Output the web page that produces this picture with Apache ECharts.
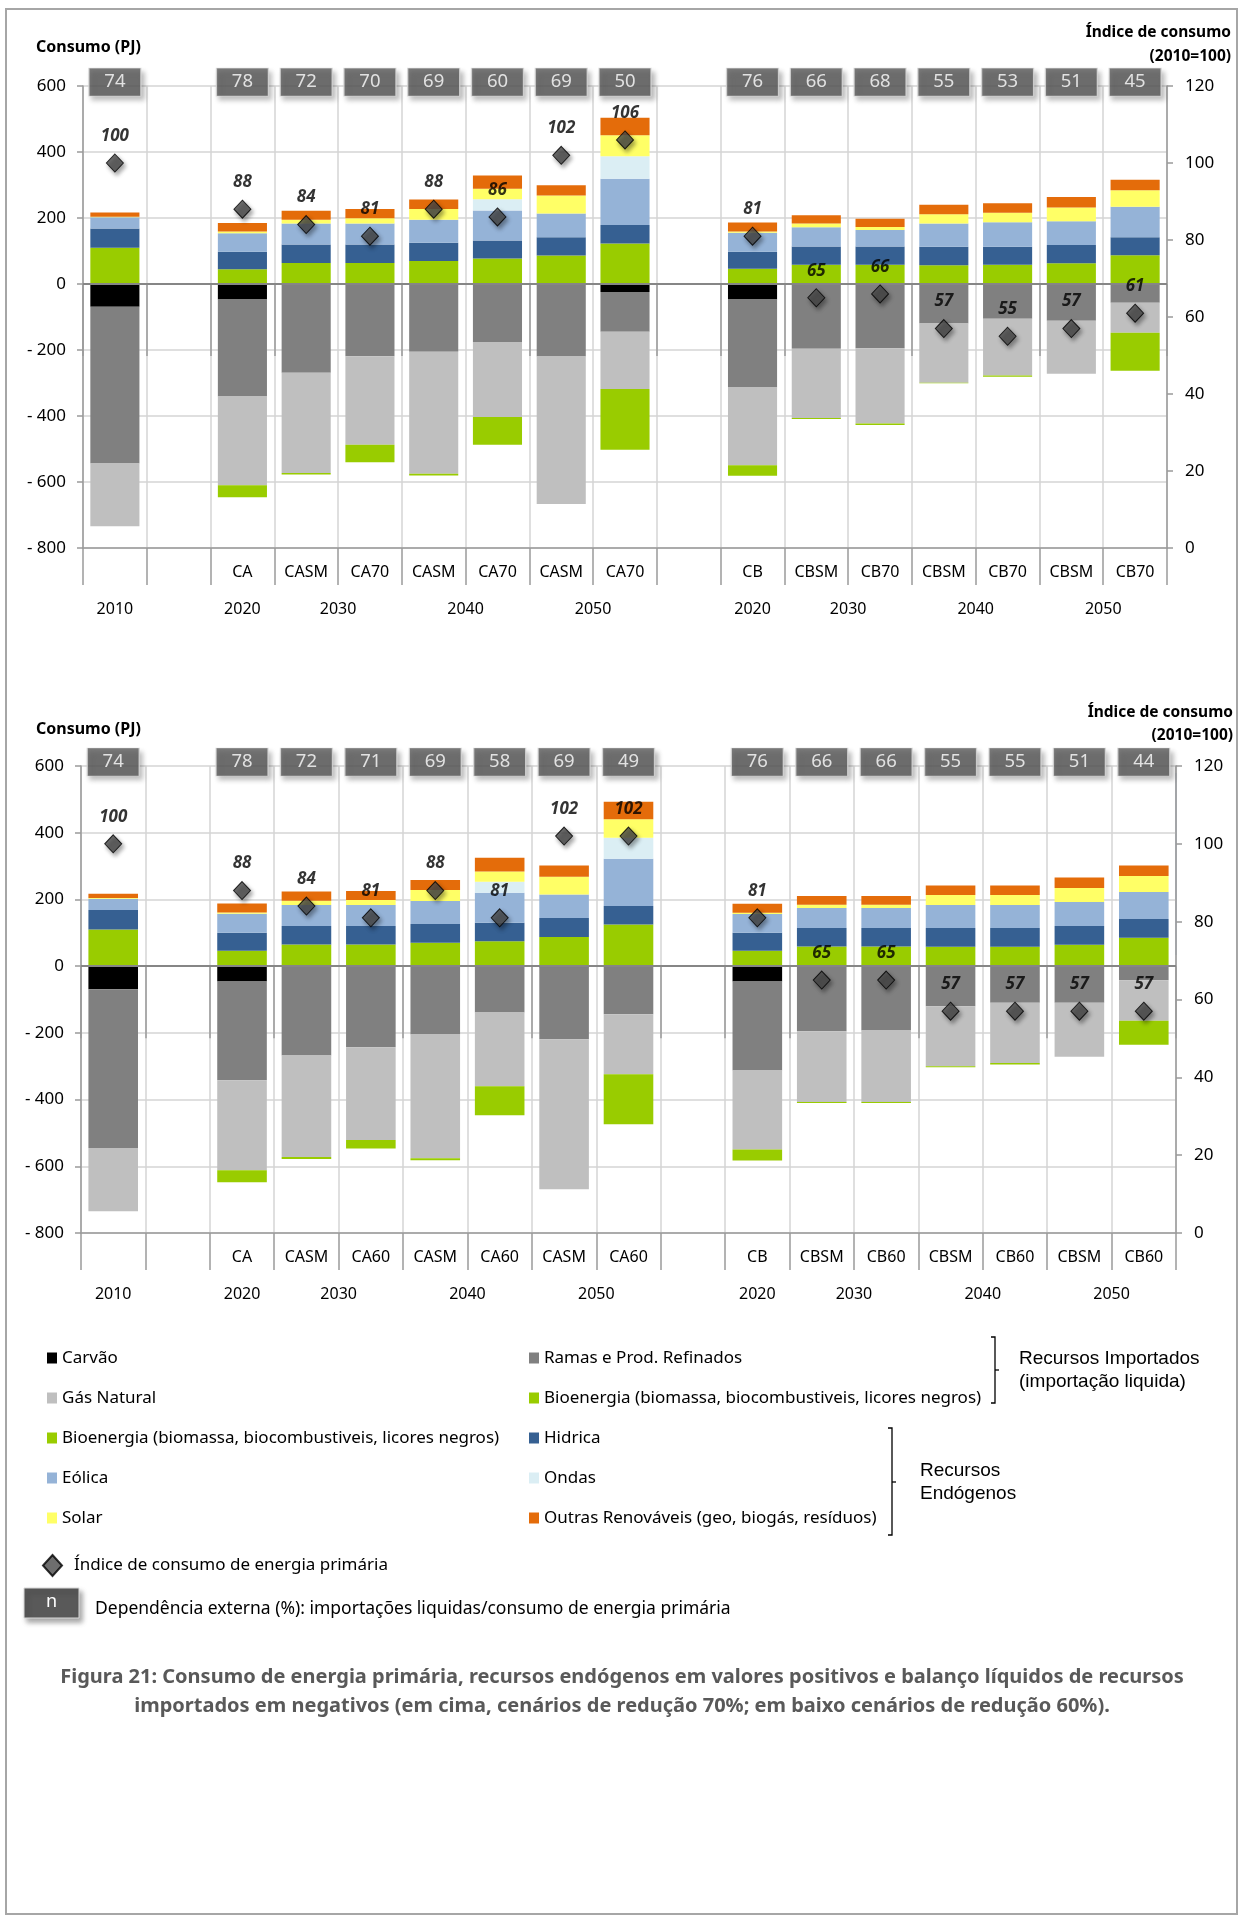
<!DOCTYPE html>
<html>
<head>
<meta charset="utf-8">
<title>Figura 21</title>
<script src="https://cdn.jsdelivr.net/npm/echarts@6/dist/echarts.min.js"></script>
<style>
  html, body { margin: 0; padding: 0; background: #fff; }
  #main { width: 1240px; height: 1917px; }
</style>
</head>
<body>
<div id="main"></div>
<script>
// categorias (linha de baixo = anos, linha de cima = cenários)
var cats70 = ['', '', 'CA', 'CASM', 'CA70', 'CASM', 'CA70', 'CASM', 'CA70', '', 'CB', 'CBSM', 'CB70', 'CBSM', 'CB70', 'CBSM', 'CB70'];
var cats60 = ['', '', 'CA', 'CASM', 'CA60', 'CASM', 'CA60', 'CASM', 'CA60', '', 'CB', 'CBSM', 'CB60', 'CBSM', 'CB60', 'CBSM', 'CB60'];
var years = ['2010', '', '2020', '2030', '2040', '2050', '', '2020', '2030', '2040', '2050'];
var yearSpan = [1, 1, 1, 2, 2, 2, 1, 1, 2, 2, 2];

// cenários de redução 70% (PJ)
var carvao70   = [-69, 0, -47, 0, 0, 0, 0, -2, -24, 0, -47, 0, 0, 0, 0, 0, 0];
var ramas70    = [-475, 0, -294, -269, -219, -205, -176, -218, -121, 0, -267, -196, -195, -120, -105, -111, -57];
var gas70      = [-190, 0, -269, -304, -268, -370, -227, -447, -173, 0, -235, -210, -228, -179, -172, -161, -91];
var bioImp70   = [0, 0, -36, -4, -53, -5, -84, 0, -184, 0, -32, -3, -4, -2, -4, 0, -115];
var bio70      = [110, 0, 45, 64, 64, 70, 77, 86, 123, 0, 46, 58, 58, 57, 58, 63, 87];
var hidrica70  = [58, 0, 53, 56, 56, 55, 55, 56, 56, 0, 52, 56, 56, 56, 55, 55, 55];
var eolica70   = [34, 0, 56, 63, 63, 70, 91, 72, 140, 0, 57, 58, 50, 70, 74, 72, 92];
var ondas70    = [0, 0, 0, 0, 0, 0, 34, 0, 68, 0, 0, 0, 0, 0, 0, 0, 0];
var solar70    = [2, 0, 5, 12, 16, 32, 32, 54, 64, 0, 4, 11, 9, 28, 29, 42, 50];
var outras70   = [13, 0, 26, 27, 28, 29, 40, 31, 53, 0, 27, 25, 25, 29, 29, 32, 32];
var indice70   = [100, null, 88, 84, 81, 88, 86, 102, 106, null, 81, 65, 66, 57, 55, 57, 61];
var dep70      = [74, null, 78, 72, 70, 69, 60, 69, 50, null, 76, 66, 68, 55, 53, 51, 45];

// cenários de redução 60% (PJ)
var carvao60   = [-69, 0, -46, 0, 0, 0, 0, -4, 0, 0, -46, 0, 0, 0, 0, 0, 0];
var ramas60    = [-476, 0, -296, -268, -243, -205, -139, -215, -144, 0, -267, -195, -193, -120, -110, -110, -42];
var gas60      = [-190, 0, -270, -304, -278, -371, -221, -450, -180, 0, -237, -212, -214, -180, -180, -162, -122];
var bioImp60   = [0, 0, -36, -6, -26, -6, -87, 0, -150, 0, -33, -3, -3, -3, -5, 0, -72];
var bio60      = [110, 0, 46, 65, 65, 70, 75, 87, 125, 0, 46, 59, 59, 58, 58, 64, 85];
var hidrica60  = [58, 0, 54, 55, 55, 56, 55, 57, 55, 0, 54, 55, 55, 56, 56, 56, 56];
var eolica60   = [34, 0, 57, 63, 63, 69, 90, 71, 142, 0, 56, 60, 60, 69, 69, 72, 81];
var ondas60    = [0, 0, 0, 0, 0, 0, 33, 0, 63, 0, 0, 0, 0, 0, 0, 0, 0];
var solar60    = [2, 0, 4, 13, 15, 33, 31, 53, 55, 0, 4, 10, 10, 30, 30, 42, 48];
var outras60   = [13, 0, 27, 28, 27, 30, 41, 34, 53, 0, 27, 26, 26, 29, 29, 32, 32];
var indice60   = [100, null, 88, 84, 81, 88, 81, 102, 102, null, 81, 65, 65, 57, 57, 57, 57];
var dep60      = [74, null, 78, 72, 71, 69, 58, 69, 49, null, 76, 66, 66, 55, 55, 51, 44];

var FONT = '"Noto Sans", sans-serif';
var BIO_TXT = 'Bioenergia (biomassa, biocombustiveis, licores negros)';
var BOX_Y = 612;

var parts = [
  {name: 'Carvão', color: '#000000'},
  {name: 'Ramas e Prod. Refinados', color: '#808080'},
  {name: 'Gás Natural', color: '#bfbfbf'},
  {name: 'Bioenergia importada', color: '#99cc00'},
  {name: 'Bioenergia', color: '#99cc00'},
  {name: 'Hidrica', color: '#366092'},
  {name: 'Eólica', color: '#95b3d7'},
  {name: 'Ondas', color: '#dbeef4'},
  {name: 'Solar', color: '#ffff66'},
  {name: 'Outras Renováveis (geo, biogás, resíduos)', color: '#e46c0a'}
];

// eixo dos anos: 35 pontos (meias categorias) para centrar os rótulos nos grupos
var yearPoints = [];
var yearTicks = [];
for (var k = 0; k < 35; k++) yearPoints.push('');
var pos = 0;
years.forEach(function (y, i) {
  yearTicks.push(2 * pos);
  yearPoints[2 * pos + yearSpan[i]] = y;
  pos += yearSpan[i];
});
yearTicks.push(2 * pos);

var gridLine = '#d4d4d4';
var axisGrey = '#9a9a9a';

function subAxis(g, cats) {
  return {
    type: 'category', gridIndex: g, data: cats, position: 'bottom',
    axisLine: {onZero: false, lineStyle: {color: axisGrey, width: 1.5}},
    axisTick: {show: true, interval: 0, length: 37, lineStyle: {color: axisGrey, width: 1.5}},
    axisLabel: {interval: 0, margin: 16, fontSize: 16, color: '#000', fontFamily: FONT},
    splitLine: {show: true, interval: 0, lineStyle: {color: gridLine, width: 1.5}}
  };
}
function yearAxis(g) {
  return {
    type: 'category', gridIndex: g, data: yearPoints, boundaryGap: false, position: 'bottom',
    axisLine: {show: false},
    axisTick: {show: true, length: 72, interval: function (i) { return yearTicks.indexOf(i) >= 0; },
      lineStyle: {color: axisGrey, width: 1.5}},
    axisLabel: {interval: 0, margin: 53, fontSize: 16, color: '#000', fontFamily: FONT},
    splitLine: {show: false}
  };
}
function leftAxis(g) {
  return {
    type: 'value', gridIndex: g, min: -800, max: 600, interval: 200, position: 'left',
    axisLine: {show: true, lineStyle: {color: axisGrey, width: 1.5}},
    axisTick: {show: true, length: 6, lineStyle: {color: axisGrey, width: 1.5}},
    axisLabel: {margin: 17, fontSize: 17, color: '#000', fontFamily: FONT,
      formatter: function (v) { return v < 0 ? '- ' + (-v) : v; }},
    splitLine: {show: true, lineStyle: {color: gridLine, width: 1.5}}
  };
}
function rightAxis(g) {
  return {
    type: 'value', gridIndex: g, min: 0, max: 120, interval: 20, position: 'right',
    axisLine: {show: true, lineStyle: {color: axisGrey, width: 1.5}},
    axisTick: {show: true, length: 6, lineStyle: {color: axisGrey, width: 1.5}},
    axisLabel: {margin: 18, fontSize: 17, color: '#000', fontFamily: FONT},
    splitLine: {show: false}
  };
}

function chartSeries(g, values, indice, dep) {
  var list = parts.map(function (p, i) {
    return {
      name: p.name, type: 'bar', stack: 'energia' + g,
      xAxisIndex: g * 2, yAxisIndex: g * 2, barWidth: '77%',
      itemStyle: {color: p.color}, data: values[i]
    };
  });
  var boxes = [];
  dep.forEach(function (d, i) { if (d != null) boxes.push([i, BOX_Y, d]); });
  list.push({
    name: 'Dependência externa', type: 'scatter', xAxisIndex: g * 2, yAxisIndex: g * 2,
    symbol: 'rect', symbolSize: [52, 28], clip: false, z: 4,
    itemStyle: {color: '#595959', borderColor: '#d9d9d9', borderWidth: 1,
      shadowBlur: 5, shadowOffsetX: 3, shadowOffsetY: 4, shadowColor: 'rgba(0,0,0,0.35)'},
    label: {show: true, position: 'inside', color: '#fff', fontSize: 18.5, fontFamily: FONT,
      formatter: function (p) { return p.value[2]; }},
    markLine: {silent: true, symbol: 'none', label: {show: false},
      lineStyle: {color: '#868686', width: 2, type: 'solid'}, data: [{yAxis: 0}]},
    data: boxes
  });
  list.push({
    name: 'Índice de consumo de energia primária', type: 'scatter',
    xAxisIndex: g * 2, yAxisIndex: g * 2 + 1,
    symbol: 'diamond', symbolSize: [17, 18], z: 5,
    itemStyle: {color: '#4a4a4a', borderColor: '#000', borderWidth: 1,
      shadowBlur: 4, shadowOffsetX: 2, shadowOffsetY: 3, shadowColor: 'rgba(0,0,0,0.45)'},
    label: {show: true, position: 'top', distance: 9, color: '#000', fontSize: 17,
      fontWeight: 'bold', fontStyle: 'italic', fontFamily: FONT},
    data: indice.map(function (v) { return v == null ? '-' : v; })
  });
  return list;
}

var series = chartSeries(0,
  [carvao70, ramas70, gas70, bioImp70, bio70, hidrica70, eolica70, ondas70, solar70, outras70],
  indice70, dep70).concat(chartSeries(1,
  [carvao60, ramas60, gas60, bioImp60, bio60, hidrica60, eolica60, ondas60, solar60, outras60],
  indice60, dep60));

function legendName(n) {
  return (n === 'Bioenergia' || n === 'Bioenergia importada') ? BIO_TXT : n;
}
var legendText = {fontSize: 17, lineHeight: 20, color: '#000', fontFamily: FONT};

function txt(x, y, text, opts) {
  opts = opts || {};
  return {
    type: 'text', x: x, y: y, silent: true,
    style: {
      text: text,
      fill: opts.fill || '#000',
      font: (opts.weight || 'normal') + ' ' + (opts.size || 17) + 'px ' + (opts.family || FONT),
      align: opts.align || 'left', textAlign: opts.align || 'left',
      verticalAlign: 'middle', textVerticalAlign: 'middle'
    }
  };
}
function bracket(x, y1, y2) {
  return {
    type: 'polyline', silent: true,
    shape: {points: [[x - 4, y1], [x, y1], [x, y2], [x - 4, y2]]},
    style: {stroke: '#000', lineWidth: 1.3, fill: null}
  };
}
function bracketTick(x, y) {
  return {type: 'line', silent: true, shape: {x1: x, y1: y, x2: x + 4, y2: y},
    style: {stroke: '#000', lineWidth: 1.3}};
}

var option = {
  animation: false,
  backgroundColor: '#fff',
  textStyle: {fontFamily: FONT},
  grid: [
    {left: 83, top: 86, width: 1084, height: 462, outerBoundsMode: 'none'},
    {left: 81, top: 766, width: 1095, height: 467, outerBoundsMode: 'none'}
  ],
  xAxis: [subAxis(0, cats70), yearAxis(0), subAxis(1, cats60), yearAxis(1)],
  yAxis: [leftAxis(0), rightAxis(0), leftAxis(1), rightAxis(1)],
  legend: [
    {orient: 'vertical', left: 42, top: 1343, itemWidth: 10, itemHeight: 11, itemGap: 20,
      icon: 'rect', selectedMode: false, textStyle: legendText, formatter: legendName,
      data: ['Carvão', 'Gás Natural', 'Bioenergia', 'Eólica', 'Solar']},
    {orient: 'vertical', left: 524, top: 1343, itemWidth: 10, itemHeight: 11, itemGap: 20,
      icon: 'rect', selectedMode: false, textStyle: legendText, formatter: legendName,
      data: ['Ramas e Prod. Refinados', 'Bioenergia importada', 'Hidrica', 'Ondas',
        'Outras Renováveis (geo, biogás, resíduos)']},
    {orient: 'vertical', left: 37, top: 1549, itemWidth: 19, itemHeight: 21,
      icon: 'diamond', selectedMode: false,
      textStyle: {fontSize: 17, lineHeight: 20, color: '#000', fontFamily: FONT, padding: [0, 0, 0, 7]},
      data: ['Índice de consumo de energia primária']}
  ],
  graphic: [
    {type: 'rect', silent: true, z: -10, shape: {x: 6, y: 9, width: 1231, height: 1905},
      style: {fill: null, stroke: '#a6a6a6', lineWidth: 2}},
    txt(36, 47, 'Consumo (PJ)', {weight: 'bold', size: 16}),
    txt(1231, 33, 'Índice de consumo', {weight: 'bold', size: 15.5, align: 'right'}),
    txt(1231, 57, '(2010=100)', {weight: 'bold', size: 15.5, align: 'right'}),
    txt(36, 729, 'Consumo (PJ)', {weight: 'bold', size: 16}),
    txt(1233, 713, 'Índice de consumo', {weight: 'bold', size: 15.5, align: 'right'}),
    txt(1233, 736, '(2010=100)', {weight: 'bold', size: 15.5, align: 'right'}),
    {type: 'line', silent: true, shape: {x1: 1176, y1: 773, x2: 1176, y2: 955},
      style: {stroke: '#7fa1d0', lineWidth: 2}},
    {type: 'rect', silent: true, shape: {x: 24, y: 1588, width: 55, height: 30},
      style: {fill: '#595959', stroke: '#d9d9d9', lineWidth: 1,
        shadowBlur: 5, shadowOffsetX: 3, shadowOffsetY: 4, shadowColor: 'rgba(0,0,0,0.35)'}},
    txt(51.5, 1602, 'n', {fill: '#fff', size: 18, align: 'center'}),
    txt(95, 1609, 'Dependência externa (%): importações liquidas/consumo de energia primária', {size: 17.5}),
    bracket(995, 1337, 1403), bracketTick(995, 1370),
    txt(1019, 1359, 'Recursos Importados', {size: 19, family: '"Liberation Sans", Arial, sans-serif'}),
    txt(1019, 1382, '(importação liquida)', {size: 19, family: '"Liberation Sans", Arial, sans-serif'}),
    bracket(892, 1428, 1535), bracketTick(892, 1482),
    txt(920, 1471, 'Recursos', {size: 19, family: '"Liberation Sans", Arial, sans-serif'}),
    txt(920, 1494, 'Endógenos', {size: 19, family: '"Liberation Sans", Arial, sans-serif'}),
    txt(622, 1677, 'Figura 21: Consumo de energia primária, recursos endógenos em valores positivos e balanço líquidos de recursos',
      {weight: 'bold', size: 20, align: 'center', fill: '#595959'}),
    txt(622, 1706, 'importados em negativos (em cima, cenários de redução 70%; em baixo cenários de redução 60%).',
      {weight: 'bold', size: 20, align: 'center', fill: '#595959'})
  ],
  series: series
};

var chart = echarts.init(document.getElementById('main'));
chart.setOption(option);
</script>
</body>
</html>
